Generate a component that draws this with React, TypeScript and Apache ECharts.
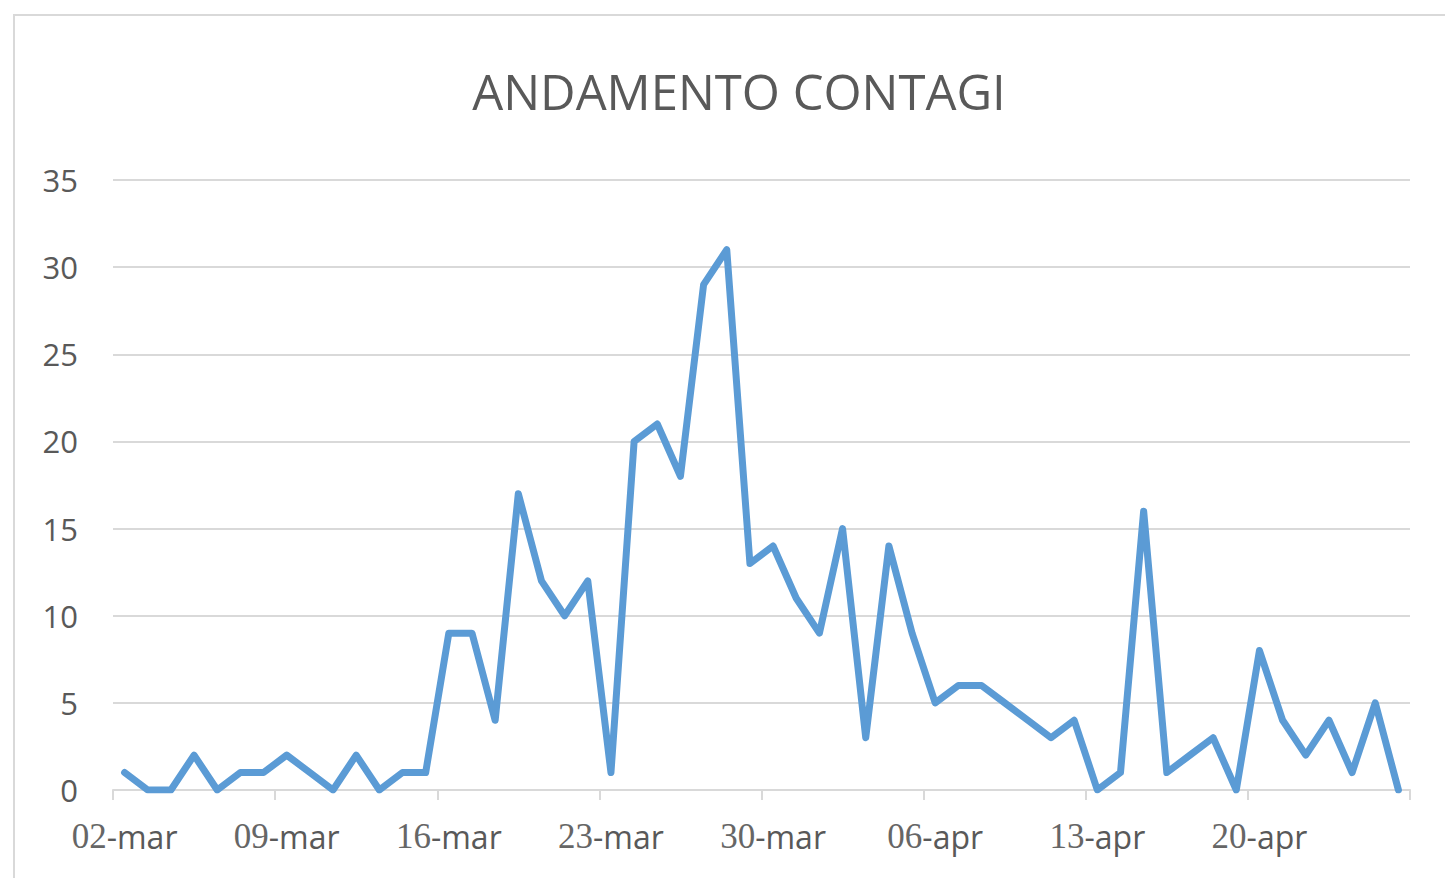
import React, { useEffect, useRef } from "react";
import * as echarts from "echarts";

const TITLE = "ANDAMENTO CONTAGI";

const dates: string[] = [
  "02-mar", "03-mar", "04-mar", "05-mar", "06-mar", "07-mar", "08-mar",
  "09-mar", "10-mar", "11-mar", "12-mar", "13-mar", "14-mar", "15-mar",
  "16-mar", "17-mar", "18-mar", "19-mar", "20-mar", "21-mar", "22-mar",
  "23-mar", "24-mar", "25-mar", "26-mar", "27-mar", "28-mar", "29-mar",
  "30-mar", "31-mar", "01-apr", "02-apr", "03-apr", "04-apr", "05-apr",
  "06-apr", "07-apr", "08-apr", "09-apr", "10-apr", "11-apr", "12-apr",
  "13-apr", "14-apr", "15-apr", "16-apr", "17-apr", "18-apr", "19-apr",
  "20-apr", "21-apr", "22-apr", "23-apr", "24-apr", "25-apr", "26-apr",
];

const contagi: number[] = [
  1, 0, 0, 2, 0, 1, 1,
  2, 1, 0, 2, 0, 1, 1,
  9, 9, 4, 17, 12, 10, 12,
  1, 20, 21, 18, 29, 31, 13,
  14, 11, 9, 15, 3, 14, 9,
  5, 6, 6, 5, 4, 3, 4,
  0, 1, 16, 1, 2, 3, 0,
  8, 4, 2, 4, 1, 5, 0,
];

const yMin = 0;
const yMax = 35;
const yStep = 5;

export default function App() {
  const ref = useRef<HTMLDivElement>(null);

  useEffect(() => {
    document.body.style.margin = "0";
    if (!ref.current) return;
    const chart = echarts.init(ref.current, null, { renderer: "svg" });
    chart.setOption({
      animation: false,
      backgroundColor: "#ffffff",
      graphic: [
        {
          type: "rect",
          z: -10,
          shape: { x: 14, y: 15, width: 1500, height: 1000 },
          style: { fill: "#ffffff", stroke: "#d9d9d9", lineWidth: 2 },
        },
        {
          type: "text",
          x: 739,
          y: 91,
          style: {
            text: TITLE,
            align: "center",
            verticalAlign: "middle",
            font: "normal 49px 'Open Sans'",
            fill: "#595959",
          },
        },
      ],
      grid: { left: 113, right: 35, top: 180, bottom: 88, containLabel: false },
      xAxis: {
        type: "category",
        data: dates,
        boundaryGap: true,
        axisLine: { show: true, lineStyle: { color: "#d9d9d9", width: 2 } },
        axisTick: {
          show: true,
          interval: 6,
          length: 10,
          lineStyle: { color: "#d9d9d9", width: 2 },
        },
        axisLabel: {
          interval: 6,
          margin: 29,
          formatter: (v: string) => {
            const [d, m] = v.split("-");
            return `{d|${d}}{t|-${m}}`;
          },
          rich: {
            d: { fontFamily: "Liberation Serif", fontSize: 35, color: "#666666" },
            t: { fontFamily: "Open Sans", fontSize: 32, color: "#595959" },
          },
        },
        splitLine: { show: false },
      },
      yAxis: {
        type: "value",
        min: yMin,
        max: yMax,
        interval: yStep,
        axisLine: { show: false },
        axisTick: { show: false },
        axisLabel: {
          margin: 35,
          fontFamily: "Open Sans",
          fontSize: 31,
          color: "#595959",
        },
        splitLine: { show: true, lineStyle: { color: "#d9d9d9", width: 2 } },
      },
      series: [
        {
          type: "line",
          data: contagi,
          showSymbol: false,
          symbol: "none",
          lineStyle: { color: "#5b9bd5", width: 7, join: "round", cap: "round" },
          itemStyle: { color: "#5b9bd5" },
        },
      ],
    });
    return () => chart.dispose();
  }, []);

  return <div ref={ref} style={{ width: 1445, height: 878 }} />;
}
